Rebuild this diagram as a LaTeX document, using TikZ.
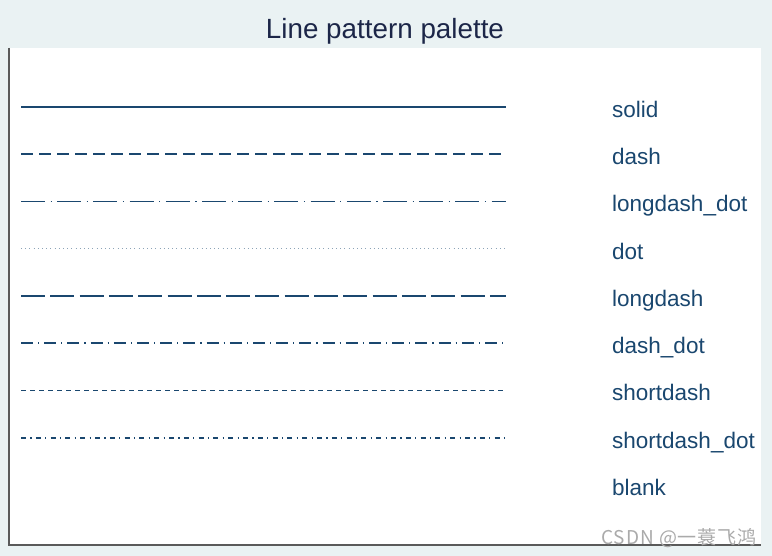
\documentclass[tikz,border=0pt]{standalone}
\usepackage{fontspec}
\setmainfont{Liberation Sans}
\newfontfamily\cjk[LetterSpace=5]{Noto Sans CJK SC}
\definecolor{bgcol}{RGB}{234,242,243}
\definecolor{navy}{RGB}{26,71,111}
\definecolor{titlecol}{RGB}{28,38,72}
\definecolor{axcol}{RGB}{90,90,90}
\definecolor{wmcol}{RGB}{170,170,170}
\tikzset{
  pline/.style={draw=navy, line width=1.9pt},
  lab/.style={anchor=base west, text=navy, font=\fontsize{22.5}{26}\selectfont, inner sep=0pt},
}
\begin{document}
\begin{tikzpicture}[x=1pt,y=-1pt]
\useasboundingbox (0,0) rectangle (772,556);
\fill[bgcol] (0,0) rectangle (772,556);
\fill[white] (9,48) rectangle (761,545);
\draw[axcol, line width=1.3pt] (9,48) -- (9,545) -- (761,545);
\node[anchor=base, text=titlecol, font=\fontsize{27.8}{32}\selectfont, inner sep=0pt] (title) at (385,38.5) {Line pattern palette};
% line rows
\coordinate (s1) at (21,107);    \coordinate (e1) at (506,107);
\coordinate (s2) at (21,154.25); \coordinate (e2) at (506,154.25);
\coordinate (s3) at (21,201.5);  \coordinate (e3) at (506,201.5);
\coordinate (s4) at (21,248.75); \coordinate (e4) at (506,248.75);
\coordinate (s5) at (21,296);    \coordinate (e5) at (506,296);
\coordinate (s6) at (21,343.25); \coordinate (e6) at (506,343.25);
\coordinate (s7) at (21,390.5);  \coordinate (e7) at (506,390.5);
\coordinate (s8) at (21,437.75); \coordinate (e8) at (506,437.75);
\draw[pline] (s1) -- (e1);
\draw[pline, dash pattern=on 12pt off 6pt] (s2) -- (e2);
\draw[pline, dash pattern=on 24pt off 5.5pt on 1.2pt off 5.5pt] (s3) -- (e3);
\draw[draw=navy!50, line width=1.2pt, dash pattern=on 1pt off 3.2pt] (s4) -- (e4);
\draw[pline, dash pattern=on 24pt off 5.3pt] (s5) -- (e5);
\draw[pline, dash pattern=on 12pt off 5pt on 1.2pt off 5pt] (s6) -- (e6);
\draw[pline, dash pattern=on 5pt off 4pt] (s7) -- (e7);
\draw[pline, dash pattern=on 5pt off 4.3pt on 1.2pt off 4.3pt] (s8) -- (e8);
% labels
\node[lab] (l1) at (612,117.3) {solid};
\node[lab] (l2) at (612,164.55) {dash};
\node[lab] (l3) at (612,211.8) {longdash\_dot};
\node[lab] (l4) at (612,259.05) {dot};
\node[lab] (l5) at (612,306.3) {longdash};
\node[lab] (l6) at (612,353.55) {dash\_dot};
\node[lab] (l7) at (612,400.8) {shortdash};
\node[lab] (l8) at (612,448.05) {shortdash\_dot};
\node[lab] (l9) at (612,495.3) {blank};
% watermark
\node[anchor=base east, text=wmcol, font=\cjk\fontsize{19}{22}\selectfont, inner sep=0pt] (wm) at (757,544) {CSDN @一蓑飞鸿};
\end{tikzpicture}
\end{document}
